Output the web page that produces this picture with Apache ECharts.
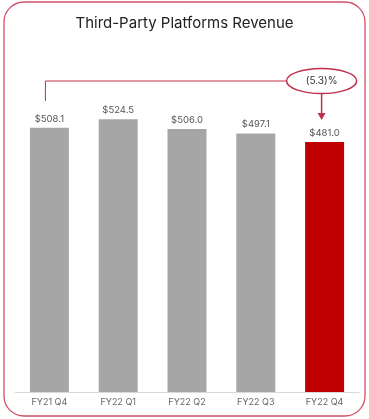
<!DOCTYPE html>
<html>
<head>
<meta charset="utf-8">
<script src="https://cdn.jsdelivr.net/npm/echarts@6/dist/echarts.min.js"></script>
<style>
  html, body { margin: 0; padding: 0; background: #fff; }
  #main { width: 369px; height: 419px; }
</style>
</head>
<body>
<div id="main"></div>
<script>
const categories = ["FY21 Q4", "FY22 Q1", "FY22 Q2", "FY22 Q3", "FY22 Q4"];
const revenue = [508.1, 524.5, 506.0, 497.1, 481.0];
const changeLabel = "(5.3)%";

const font = "Inter, 'Noto Sans', sans-serif";
const red = "#c0304a";

const myChart = echarts.init(document.getElementById("main"));

const option = {
  backgroundColor: "#fff",
  animation: false,
  title: {
    text: "Third-Party Platforms Revenue",
    left: "center",
    top: 11,
    textStyle: { color: "#222", fontSize: 15, fontWeight: 400, fontFamily: font }
  },
  grid: { left: 15, right: 10, top: 80, bottom: 27 },
  xAxis: {
    type: "category",
    data: categories,
    axisTick: { show: false },
    axisLine: { lineStyle: { color: "#d9d9d9" } },
    axisLabel: { color: "#666", fontSize: 9, fontFamily: font, margin: 6 }
  },
  yAxis: {
    type: "value",
    min: 0,
    max: 600,
    show: false,
    splitLine: { show: false }
  },
  series: [
    {
      type: "bar",
      barWidth: 39,
      data: revenue.map((v, i) => ({
        value: v,
        itemStyle: { color: i === revenue.length - 1 ? "#c00000" : "#a6a6a6" }
      })),
      label: {
        show: true,
        position: "top",
        distance: 4,
        color: "#555",
        fontSize: 9.5,
        fontFamily: font,
        formatter: p => "$" + p.value.toFixed(1)
      }
    }
  ]
};
myChart.setOption(option);

// annotation anchored to the first and last bars
const first = myChart.convertToPixel({ seriesIndex: 0 }, [0, revenue[0]]);
const last = myChart.convertToPixel({ seriesIndex: 0 }, [revenue.length - 1, revenue[revenue.length - 1]]);
const lineY = 81;
const lx = first[0] - 4;
const ax = last[0] - 3;
const ellRx = 35, ellRy = 12.5;

myChart.setOption({
  graphic: [
    {
      type: "rect",
      shape: { x: 4, y: 2, width: 361, height: 414, r: 20 },
      style: { fill: null, stroke: "#d05068", lineWidth: 1.3 },
      silent: true
    },
    {
      type: "polyline",
      shape: { points: [[lx, 101], [lx, lineY], [ax - ellRx, lineY]] },
      style: { fill: null, stroke: red, lineWidth: 1 }
    },
    {
      type: "ellipse",
      shape: { cx: ax, cy: lineY, rx: ellRx, ry: ellRy },
      style: { fill: "#fff", stroke: red, lineWidth: 1.5 }
    },
    {
      type: "text",
      x: ax,
      y: lineY,
      style: {
        text: changeLabel,
        fill: "#333",
        fontSize: 10,
        fontFamily: font,
        align: "center",
        verticalAlign: "middle"
      }
    },
    {
      type: "line",
      shape: { x1: ax, y1: lineY + ellRy, x2: ax, y2: last[1] - 28 },
      style: { stroke: red, lineWidth: 1.5 }
    },
    {
      type: "polygon",
      shape: { points: [[ax - 4, last[1] - 29], [ax + 4, last[1] - 29], [ax, last[1] - 22]] },
      style: { fill: red }
    }
  ]
});
</script>
</body>
</html>
